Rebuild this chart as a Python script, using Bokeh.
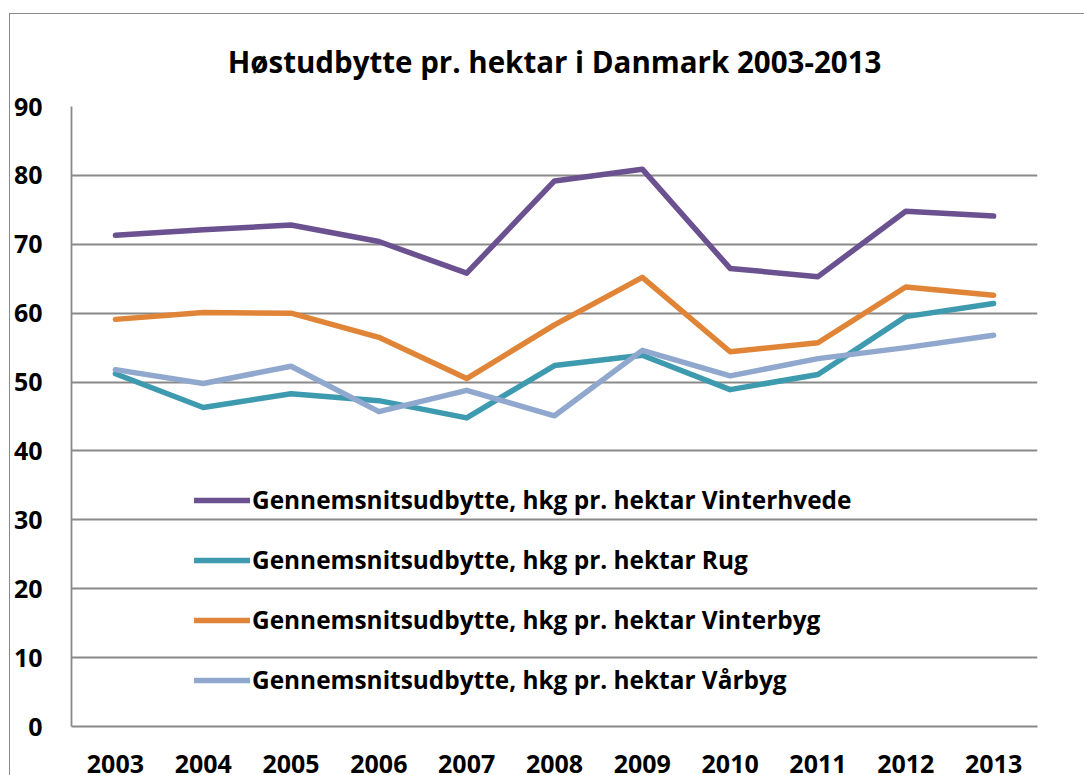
from bokeh.plotting import figure
from bokeh.models import FactorRange, Range1d, Legend, LegendItem, SingleIntervalTicker, ColumnDataSource
from bokeh.embed import file_html
from bokeh.resources import INLINE

years = ["2003", "2004", "2005", "2006", "2007", "2008", "2009", "2010", "2011", "2012", "2013"]
vinterhvede = [71.3, 72.1, 72.8, 70.4, 65.8, 79.2, 80.9, 66.5, 65.3, 74.8, 74.1]
rug = [51.2, 46.3, 48.3, 47.3, 44.8, 52.4, 53.9, 48.9, 51.1, 59.5, 61.4]
vinterbyg = [59.1, 60.1, 60.0, 56.5, 50.5, 58.3, 65.2, 54.4, 55.7, 63.8, 62.6]
vaarbyg = [51.8, 49.8, 52.3, 45.7, 48.8, 45.1, 54.6, 50.9, 53.4, 55.0, 56.8]
title_text = "Høstudbytte pr. hektar i Danmark 2003-2013"

series = [
    ("Gennemsnitsudbytte, hkg pr. hektar Vinterhvede", vinterhvede, "#6B5190"),
    ("Gennemsnitsudbytte, hkg pr. hektar Rug", rug, "#3E9AAF"),
    ("Gennemsnitsudbytte, hkg pr. hektar Vinterbyg", vinterbyg, "#E08538"),
    ("Gennemsnitsudbytte, hkg pr. hektar Vårbyg", vaarbyg, "#90A8CE"),
]

FONT = "Open Sans"

p = figure(
    x_range=FactorRange(factors=years, range_padding=0),
    y_range=Range1d(0, 90),
    width=1075, height=762,
    output_backend="svg", toolbar_location=None,
    min_border_left=58, min_border_right=48, min_border_top=92, min_border_bottom=50,
)
p.margin = (13, 0, 0, 9)
p.styles = {"border-top": "1px solid #8a8a8a", "border-left": "1px solid #8a8a8a"}

p.title.text = title_text
p.title.align = "center"
p.title.vertical_align = "top"
p.title.text_font = FONT
p.title.text_font_style = "bold"
p.title.text_font_size = "29.5px"
p.title.text_color = "black"
p.title.standoff = 46

p.outline_line_color = None
p.xgrid.grid_line_color = None
p.ygrid.grid_line_color = "#898989"
p.ygrid.grid_line_width = 1.8

p.yaxis.ticker = SingleIntervalTicker(interval=10)
for ax in (p.xaxis[0], p.yaxis[0]):
    ax.major_tick_line_color = None
    ax.minor_tick_line_color = None
    ax.axis_line_color = "#898989"
    ax.axis_line_width = 1.8
    ax.major_label_text_font = FONT
    ax.major_label_text_font_style = "bold"
    ax.major_label_text_font_size = "25px"
    ax.major_label_text_color = "black"
p.yaxis.major_label_standoff = 23
p.xaxis.major_label_standoff = 22

items = []
for label, vals, color in series:
    src = ColumnDataSource(dict(x=years, y=vals))
    r = p.line("x", "y", source=src, line_color=color, line_width=5.5, line_join="round", line_cap="round")
    items.append(LegendItem(label=label, renderers=[r]))

legend = Legend(items=items, location=(123, 30))
legend.background_fill_alpha = 0
legend.border_line_color = None
legend.padding = 0
legend.margin = 0
legend.glyph_width = 56
legend.glyph_height = 30
legend.label_height = 30
legend.spacing = 27
legend.label_standoff = 2
legend.label_text_font = FONT
legend.label_text_font_style = "bold"
legend.label_text_font_size = "24.4px"
legend.label_text_color = "black"
p.add_layout(legend, "center")

open("out.html", "w").write(file_html(p, INLINE))
